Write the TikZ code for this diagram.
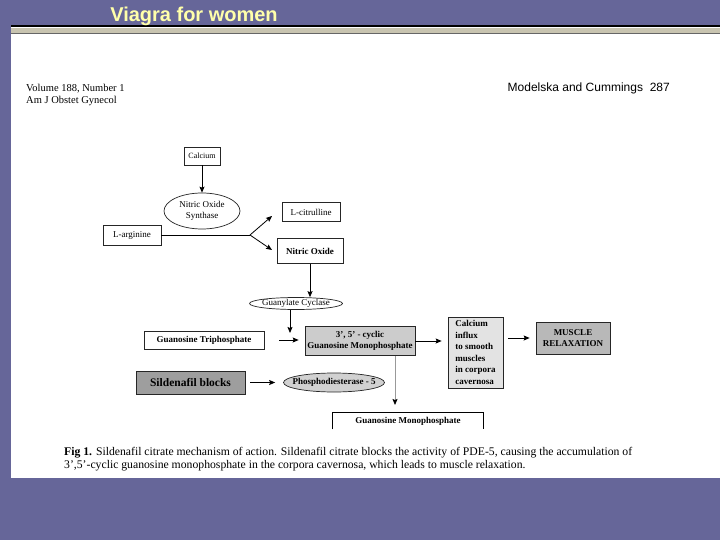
\documentclass[tikz,border=0pt]{standalone}
\usepackage{fontspec}
\setmainfont{Liberation Serif}
\newfontfamily\arialfont{Liberation Sans}
\usetikzlibrary{arrows.meta,shapes.geometric}

\definecolor{slidebg}{HTML}{666699}
\definecolor{titleyellow}{HTML}{FFFFAA}
\definecolor{bandgray}{HTML}{C8C4B0}

\begin{document}
\begin{tikzpicture}[x=1pt,y=-1pt,
  box/.style={draw=black!85,line width=0.7pt,inner sep=0pt,align=center,font=\fontsize{9}{10.5}\selectfont},
  oval/.style={box,ellipse},
  boldbox/.style={box,font=\fontsize{9}{10.5}\selectfont\bfseries},
  arr/.style={line width=0.8pt,-{Stealth[length=6pt,width=5pt,inset=1pt]}}]
% slide
\fill[slidebg] (0,0) rectangle (720,540);
\fill[white] (11,27) rectangle (720,478);
\fill[black] (11,25) rectangle (720,27);
\fill[bandgray] (11,28) rectangle (720,33);
\fill[black!60] (11,33) rectangle (720,34);
\node[text=titleyellow,font=\arialfont\bfseries\fontsize{20}{20}\selectfont,anchor=base] (title) at (194,22) {Viagra for women};
% page header
\node[anchor=base west,inner sep=0pt,font=\fontsize{10.5}{12}\selectfont] (vol) at (26,92) {Volume 188, Number 1};
\node[anchor=base west,inner sep=0pt,font=\fontsize{10.5}{12}\selectfont] (journal) at (26,104) {Am J Obstet Gynecol};
\node[anchor=base east,inner sep=0pt,font=\arialfont\fontsize{12}{14}\selectfont] (authors) at (670,92) {Modelska and Cummings\ \ 287};
% nodes
\node[box,minimum width=36,minimum height=18,font=\fontsize{8}{10}\selectfont] (calcium) at (202,156) {Calcium};
\node[oval,minimum width=76,minimum height=36] (nos) at (202,211) {Nitric Oxide\\Synthase};
\node[box,minimum width=58,minimum height=20] (larg) at (132,235) {L-arginine};
\node[box,minimum width=58,minimum height=19] (lcit) at (311,212) {L-citrulline};
\node[boldbox,minimum width=66,minimum height=25] (no) at (310,251) {Nitric Oxide};
\node[oval,minimum width=93,minimum height=12,inner xsep=-12pt,inner ysep=-1pt] (gc) at (296,303.5) {Guanylate Cyclase};
\node[boldbox,minimum width=120,minimum height=18] (gtp) at (204,340) {Guanosine Triphosphate};
\node[boldbox,minimum width=110,minimum height=29,fill=black!20] (cgmp) at (360,341) {3', 5' - cyclic\\Guanosine Monophosphate};
\node[boldbox,minimum width=55,minimum height=71,fill=black!11,align=left,font=\fontsize{9}{11.5}\selectfont\bfseries] (cain) at (475.5,352.5) {Calcium\\influx\\to smooth\\muscles\\in corpora\\cavernosa};
\node[boldbox,minimum width=74,minimum height=32,fill=black!28] (mr) at (573,338) {MUSCLE\\RELAXATION};
\node[boldbox,minimum width=109,minimum height=23,fill=black!38,font=\fontsize{11.5}{13}\selectfont\bfseries] (sild) at (190.5,382.5) {Sildenafil blocks};
\node[oval,minimum width=101,minimum height=19,inner xsep=-14pt,inner ysep=0pt,fill=black!18,font=\fontsize{9}{10.5}\selectfont\bfseries] (pde) at (334,382.5) {Phosphodiesterase - 5};
\node[boldbox,draw=none,minimum width=150,minimum height=16] (gmp) at (408,421) {Guanosine Monophosphate};
\draw[line width=0.7pt] (gmp.south west) -- (gmp.north west) -- (gmp.north east) -- (gmp.south east);
% connectors
\coordinate (fork) at (250,235);
\coordinate (citend) at (272,216);
\coordinate (noend) at (272,250);
\coordinate (gcjoin) at (290,333);
\coordinate (gmpend) at (395,405);
\draw[arr] (calcium) -- (nos);
\draw[line width=0.7pt] (larg.east) -- (fork);
\draw[arr] (fork) -- (citend);
\draw[arr] (fork) -- (noend);
\draw[arr] (no.south) -- (no.south |- gc.north);
\draw[arr] (gc.south -| gcjoin) -- (gcjoin);
\draw[arr,shorten <=15pt,shorten >=6pt] (gtp.east) -- (cgmp.west |- gtp.east);
\draw[arr,shorten >=6pt] (cgmp.east) -- (cgmp.east -| cain.west);
\draw[arr,shorten <=5pt,shorten >=6pt] (cain.east |- mr.west) -- (mr.west);
\draw[arr,shorten <=5pt,shorten >=8pt] (sild.east) -- (pde.west);
\draw[arr,draw=black!40,-{Stealth[length=6pt,width=5pt,inset=1pt,color=black]}] ([xshift=35pt]cgmp.south) -- (gmpend);
% caption
\node[anchor=base west,inner sep=0pt,font=\fontsize{11.7}{13}\selectfont] (cap1) at (64,455) {\textbf{Fig 1.} Sildenafil citrate mechanism of action. Sildenafil citrate blocks the activity of PDE-5, causing the accumulation of};
\node[anchor=base west,inner sep=0pt,font=\fontsize{11.7}{13}\selectfont] (cap2) at (64,468) {3',5'-cyclic guanosine monophosphate in the corpora cavernosa, which leads to muscle relaxation.};
\end{tikzpicture}
\end{document}
